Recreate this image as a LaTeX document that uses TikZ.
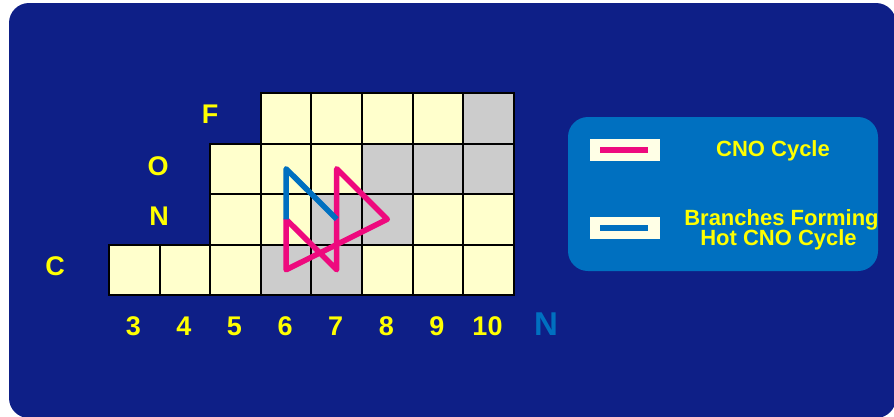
\documentclass[tikz,border=0pt]{standalone}
\usepackage{fontspec}
\setmainfont{Liberation Sans}
\definecolor{bgblue}{HTML}{0E1F87}
\definecolor{legblue}{HTML}{0070C0}
\definecolor{cellyel}{HTML}{FFFFCC}
\definecolor{cellgray}{HTML}{CCCCCC}
\definecolor{cnopink}{HTML}{EE0A7E}
\definecolor{swatch}{HTML}{FFFFE6}
\definecolor{labyel}{HTML}{FFFF00}
\begin{document}
\begin{tikzpicture}[x=1pt,y=-1pt,
 cell/.style={draw=black,line width=2pt,minimum width=50.6pt,minimum height=50.5pt,inner sep=0pt,anchor=north west,fill=cellyel},
 graycell/.style={cell,fill=cellgray},
 lab/.style={text=labyel,font=\bfseries\fontsize{27}{27}\selectfont,anchor=base,inner sep=0pt},
 legtext/.style={text=labyel,font=\bfseries\fontsize{22}{22}\selectfont,anchor=base,inner sep=0pt},
 cnoline/.style={draw=cnopink,line width=5.5pt,line join=round},
 hotline/.style={draw=legblue,line width=5.5pt,line join=round,line cap=butt}]
\useasboundingbox (0,0) rectangle (894,416);
\fill[white] (0,0) rectangle (894,416);
\fill[bgblue,rounded corners=20pt] (9,3) rectangle (896,418);
% grid
\foreach \n in {6,7,8,9} \node[cell] (cF\n) at ({108+50.6*(\n-3)},92) {};
\node[graycell] (cF10) at ({108+50.6*7},92) {};
\foreach \n in {5,6,7} \node[cell] (cO\n) at ({108+50.6*(\n-3)},142.5) {};
\foreach \n in {8,9,10} \node[graycell] (cO\n) at ({108+50.6*(\n-3)},142.5) {};
\foreach \n in {5,6,9,10} \node[cell] (cN\n) at ({108+50.6*(\n-3)},193) {};
\foreach \n in {7,8} \node[graycell] (cN\n) at ({108+50.6*(\n-3)},193) {};
\foreach \n in {3,4,5,8,9,10} \node[cell] (cC\n) at ({108+50.6*(\n-3)},243.5) {};
\foreach \n in {6,7} \node[graycell] (cC\n) at ({108+50.6*(\n-3)},243.5) {};
% cycles
\draw[cnoline] (cN6.center) -- (cC7.center) -- (cO7.center) -- (cN8.center) -- (cC6.center) -- cycle;
\draw[hotline] (cN6.center) -- (cO6.center) -- (cN7.center);
% labels
\node[lab] (lF) at (210,123) {F};
\node[lab] (lO) at (158,175) {O};
\node[lab] (lN) at (159,225) {N};
\node[lab] (lC) at (55,275) {C};
\foreach \n in {3,...,10} \node[lab] (n\n) at ({133.3+50.6*(\n-3)},335) {\n};
\node[text=legblue,font=\bfseries\fontsize{33}{33}\selectfont,anchor=base,inner sep=0pt] (axisN) at (546,335) {N};
% legend
\node[fill=legblue,rounded corners=20pt,minimum width=310pt,minimum height=154pt,inner sep=0pt] (legend) at (723,194) {};
\node[fill=swatch,minimum width=70pt,minimum height=22pt,inner sep=0pt] (sw1) at (625,150) {};
\node[fill=cnopink,minimum width=48pt,minimum height=6pt,inner sep=0pt] (sw1in) at (624,150) {};
\node[fill=swatch,minimum width=70pt,minimum height=22pt,inner sep=0pt] (sw2) at (625,228) {};
\node[fill=legblue,minimum width=48pt,minimum height=6pt,inner sep=0pt] (sw2in) at (624,228) {};
\node[legtext] (t1) at (773,156.7) {CNO Cycle};
\node[legtext] (t2) at (781.5,225) {Branches Forming};
\node[legtext] (t3) at (778.5,245) {Hot CNO Cycle};
\end{tikzpicture}
\end{document}
